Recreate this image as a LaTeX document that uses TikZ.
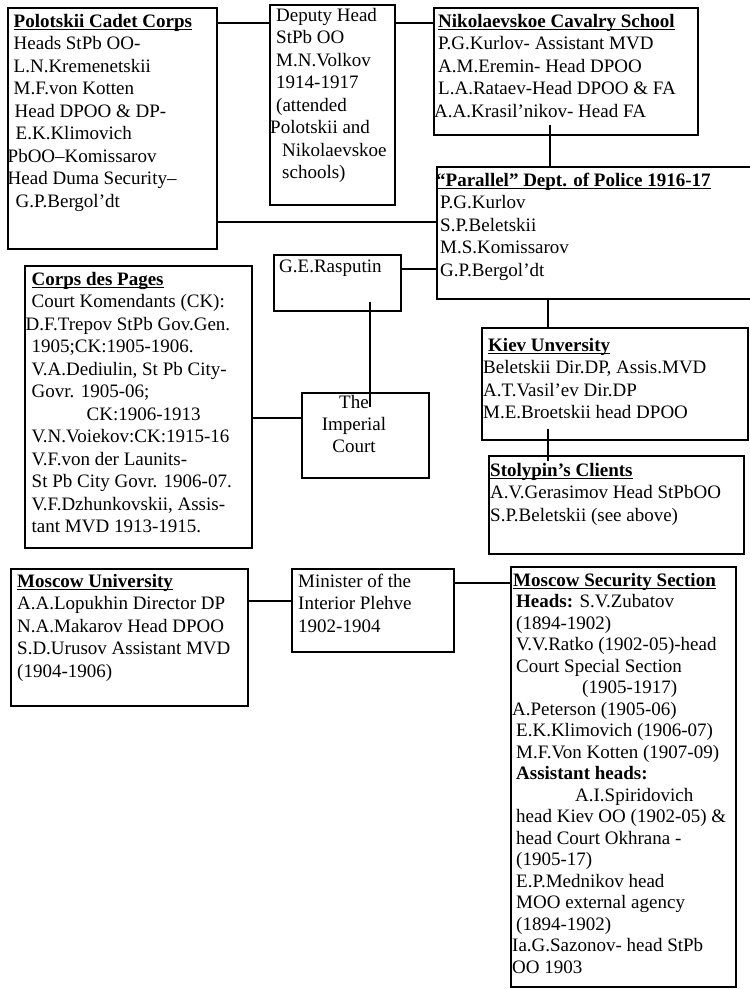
\documentclass[tikz,border=0pt]{standalone}
\usepackage{fontspec}
\setmainfont{Liberation Serif}
\newcommand{\ulttl}[1]{\setbox0\hbox{\textbf{#1}}\rlap{\rule[-2.4pt]{\wd0}{1.1pt}}\box0}
\newcommand{\fst}{\rule{0pt}{15pt}}
\begin{document}
\begin{tikzpicture}[x=1pt,y=-1pt,
  box/.style={draw, line width=1.6pt, inner sep=0pt, anchor=north west},
  txt/.style={anchor=north west, inner sep=0pt, align=left, font=\fontsize{19}{22.5}\selectfont},
  ctxt/.style={anchor=north, inner sep=0pt, align=center, font=\fontsize{19}{22.3}\selectfont},
  conn/.style={line width=1.3pt}]
\useasboundingbox (0,0) rectangle (750,989);
\fill[white] (0,0) rectangle (750,989);

% boxes
\node[box, minimum width=209pt, minimum height=241pt] (pol) at (7,7) {};
\node[box, minimum width=125pt, minimum height=200pt] (dep) at (269,4) {};
\node[box, minimum width=264pt, minimum height=127pt] (nik) at (433,7) {};
\node[box, minimum width=324pt, minimum height=132pt] (par) at (436,166) {};
\node[box, minimum width=127pt, minimum height=56pt] (ras) at (273,254) {};
\node[box, minimum width=227pt, minimum height=282pt] (pag) at (24,265) {};
\node[box, minimum width=127pt, minimum height=85pt] (imp) at (301,392) {};
\node[box, minimum width=266pt, minimum height=112pt] (kie) at (481,327) {};
\node[box, minimum width=255pt, minimum height=98pt] (sto) at (488,455) {};
\node[box, minimum width=237pt, minimum height=137pt] (mun) at (10,568) {};
\node[box, minimum width=162pt, minimum height=83pt] (min) at (291,568) {};
\node[box, minimum width=225pt, minimum height=420pt] (mss) at (510,566) {};

% texts
\node[txt] (polT) at (13.5,12) {\fst\ulttl{Polotskii Cadet Corps}\\
Heads StPb OO-\\
L.N.Kremenetskii\\
M.F.von Kotten\\
\hspace*{1pt}Head DPOO \& DP-\\
\hspace*{2pt}E.K.Klimovich\\
\hspace*{-6pt}PbOO–Komissarov\\
\hspace*{-6pt}Head Duma Security–\\
\hspace*{2pt}G.P.Bergol’dt};

\node[txt] (depT) at (276,6) {\fst Deputy Head\\
StPb OO\\
M.N.Volkov\\
1914-1917\\
(attended\\
\hspace*{-6pt}Polotskii and\\
\hspace*{6pt}Nikolaevskoe\\
\hspace*{6pt}schools)};

\node[txt] (nikT) at (438,12) {\fst\ulttl{Nikolaevskoe Cavalry School}\\
P.G.Kurlov- Assistant MVD\\
A.M.Eremin- Head DPOO\\
L.A.Rataev-Head DPOO \& FA\\
\hspace*{-4pt}A.A.Krasil’nikov- Head FA};

\node[txt] (parT) at (440,171) {\fst\hspace*{-4pt}\ulttl{“Parallel” Dept. of Police 1916-17}\\
P.G.Kurlov\\
S.P.Beletskii\\
M.S.Komissarov\\
G.P.Bergol’dt};

\node[txt] (rasT) at (279,257) {\fst G.E.Rasputin};

\node[txt] (pagT) at (31.5,270) {\fst\ulttl{Corps des Pages}\\
Court Komendants (CK):\\
\hspace*{-6pt}D.F.Trepov StPb Gov.Gen.\\
1905;CK:1905-1906.\\
V.A.Dediulin, St Pb City-\\
Govr. 1905-06;\\
\hspace*{55pt}CK:1906-1913\\
V.N.Voiekov:CK:1915-16\\
V.F.von der Launits-\\
St Pb City Govr. 1906-07.\\
V.F.Dzhunkovskii, Assis-\\
tant MVD 1913-1915.};

\node[ctxt] (impT) at (354,393) {\fst The\\ Imperial\\ Court};

\node[txt] (kieT) at (483,336) {\fst\hspace*{5pt}\ulttl{Kiev Unversity}\\
Beletskii Dir.DP, Assis.MVD\\
A.T.Vasil’ev Dir.DP\\
M.E.Broetskii head DPOO};

\node[txt] (stoT) at (490,461) {\fst\ulttl{Stolypin’s Clients}\\
A.V.Gerasimov Head StPbOO\\
S.P.Beletskii (see above)};

\node[txt] (munT) at (17,572) {\fst\ulttl{Moscow University}\\
A.A.Lopukhin Director DP\\
N.A.Makarov Head DPOO\\
S.D.Urusov Assistant MVD\\
(1904-1906)};

\node[txt] (minT) at (298,572) {\fst Minister of the\\
Interior Plehve\\
1902-1904};

\node[txt, font=\fontsize{19}{21.5}\selectfont] (mssT) at (516,571) {\fst\hspace*{-3pt}\ulttl{Moscow Security Section}\\
\textbf{Heads:} S.V.Zubatov\\
(1894-1902)\\
V.V.Ratko (1902-05)-head\\
Court Special Section\\
\hspace*{66pt}(1905-1917)\\
\hspace*{-4pt}A.Peterson (1905-06)\\
E.K.Klimovich (1906-07)\\
M.F.Von Kotten (1907-09)\\
\textbf{Assistant heads:}\\
\hspace*{59pt}A.I.Spiridovich\\
head Kiev OO (1902-05) \&\\
head Court Okhrana -\\
(1905-17)\\
E.P.Mednikov head\\
MOO external agency\\
(1894-1902)\\
\hspace*{-4pt}Ia.G.Sazonov- head StPb\\
\hspace*{-4pt}OO 1903};

% connector levels
\coordinate (y23) at (0,23);
\coordinate (y222) at (0,222);
\coordinate (y269) at (0,269);
\coordinate (y418) at (0,418);
\coordinate (y601) at (0,601);
\coordinate (y583) at (0,583);
\coordinate (x550) at (550,0);
\coordinate (x548) at (548,0);
\coordinate (x370) at (370,0);

% connectors
\draw[conn] (pol.east |- y23) -- (dep.west |- y23);
\draw[conn] (dep.east |- y23) -- (nik.west |- y23);
\draw[conn] (pol.east |- y222) -- (par.west |- y222);
\draw[conn] (ras.east |- y269) -- (par.west |- y269);
\draw[conn, shorten <=-11pt] (nik.south -| x550) -- (par.north -| x550);
\draw[conn] (par.south -| x548) -- (kie.north -| x548);
\draw[conn, shorten <=-12pt, shorten >=-6pt] (kie.south -| x548) -- (sto.north -| x548);
\draw[conn, shorten <=-10pt, shorten >=-15pt] (ras.south -| x370) -- (imp.north -| x370);
\draw[conn] (pag.east |- y418) -- (imp.west |- y418);
\draw[conn] (mun.east |- y601) -- (min.west |- y601);
\draw[conn] (min.east |- y583) -- (mss.west |- y583);
\end{tikzpicture}
\end{document}
